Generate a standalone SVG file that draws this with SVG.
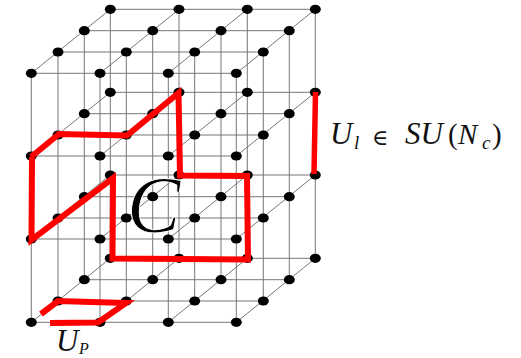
<svg xmlns="http://www.w3.org/2000/svg" width="521" height="358" viewBox="0 0 521 358">
<style>
.g{fill:none;stroke:#777;stroke-width:1}
.r{fill:none;stroke:#f00;stroke-width:6;stroke-linejoin:miter}
.m{font-family:"Liberation Serif",serif;font-style:italic;fill:#111}
.p{font-family:"Liberation Serif",serif;fill:#111}
.u{font-family:"DejaVu Serif",serif;fill:#111}
</style>
<defs><ellipse id="d" rx="5.5" ry="4.6" fill="#000"/></defs>
<g id="connectors">
<path class="g" d="M31.3 73.3H236.3M31.3 156H236.3M31.3 239H236.3M31.3 322.3H236.3M58 52H263.3M58 135H263.3M58 218H263.3M58 301H263.3M84.3 30.7H289.3M84.3 113.7H289.3M84.3 196.7H289.3M84.3 279.7H289.3M110.3 9.3H315.3M110.3 92.3H315.3M110.3 175H315.3M110.3 258.3H315.3"/>
<path class="g" d="M31.3 73.3V322.3M100 73.3V322.3M168.3 73.3V322.3M236.3 73.3V322.3M58 52V301M126.3 52V301M194.7 52V301M263.3 52V301M84.3 30.7V279.7M152.7 30.7V279.7M221 30.7V279.7M289.3 30.7V279.7M110.3 9.3V258.3M179 9.3V258.3M247.3 9.3V258.3M315.3 9.3V258.3"/>
<path class="g" d="M31.3 73.3L110.3 9.3M100 73.3L179 9.3M168.3 73.3L247.3 9.3M236.3 73.3L315.3 9.3M31.3 156L110.3 92.3M100 156L179 92.3M168.3 156L247.3 92.3M236.3 156L315.3 92.3M31.3 239L110.3 175M100 239L179 175M168.3 239L247.3 175M236.3 239L315.3 175M31.3 322.3L110.3 258.3M100 322.3L179 258.3M168.3 322.3L247.3 258.3M236.3 322.3L315.3 258.3"/>
</g>
<g id="nodes">
<g id="n000"><use href="#d" x="31.3" y="73.3"/></g><g id="n100"><use href="#d" x="100" y="73.3"/></g><g id="n200"><use href="#d" x="168.3" y="73.3"/></g><g id="n300"><use href="#d" x="236.3" y="73.3"/></g>
<g id="n010"><use href="#d" x="31.3" y="156"/></g><g id="n110"><use href="#d" x="100" y="156"/></g><g id="n210"><use href="#d" x="168.3" y="156"/></g><g id="n310"><use href="#d" x="236.3" y="156"/></g>
<g id="n020"><use href="#d" x="31.3" y="239"/></g><g id="n120"><use href="#d" x="100" y="239"/></g><g id="n220"><use href="#d" x="168.3" y="239"/></g><g id="n320"><use href="#d" x="236.3" y="239"/></g>
<g id="n030"><use href="#d" x="31.3" y="322.3"/></g><g id="n130"><use href="#d" x="100" y="322.3"/></g><g id="n230"><use href="#d" x="168.3" y="322.3"/></g><g id="n330"><use href="#d" x="236.3" y="322.3"/></g>
<g id="n001"><use href="#d" x="58" y="52"/></g><g id="n101"><use href="#d" x="126.3" y="52"/></g><g id="n201"><use href="#d" x="194.7" y="52"/></g><g id="n301"><use href="#d" x="263.3" y="52"/></g>
<g id="n011"><use href="#d" x="58" y="135"/></g><g id="n111"><use href="#d" x="126.3" y="135"/></g><g id="n211"><use href="#d" x="194.7" y="135"/></g><g id="n311"><use href="#d" x="263.3" y="135"/></g>
<g id="n021"><use href="#d" x="58" y="218"/></g><g id="n121"><use href="#d" x="126.3" y="218"/></g><g id="n221"><use href="#d" x="194.7" y="218"/></g><g id="n321"><use href="#d" x="263.3" y="218"/></g>
<g id="n031"><use href="#d" x="58" y="301"/></g><g id="n131"><use href="#d" x="126.3" y="301"/></g><g id="n231"><use href="#d" x="194.7" y="301"/></g><g id="n331"><use href="#d" x="263.3" y="301"/></g>
<g id="n002"><use href="#d" x="84.3" y="30.7"/></g><g id="n102"><use href="#d" x="152.7" y="30.7"/></g><g id="n202"><use href="#d" x="221" y="30.7"/></g><g id="n302"><use href="#d" x="289.3" y="30.7"/></g>
<g id="n012"><use href="#d" x="84.3" y="113.7"/></g><g id="n112"><use href="#d" x="152.7" y="113.7"/></g><g id="n212"><use href="#d" x="221" y="113.7"/></g><g id="n312"><use href="#d" x="289.3" y="113.7"/></g>
<g id="n022"><use href="#d" x="84.3" y="196.7"/></g><g id="n122"><use href="#d" x="152.7" y="196.7"/></g><g id="n222"><use href="#d" x="221" y="196.7"/></g><g id="n322"><use href="#d" x="289.3" y="196.7"/></g>
<g id="n032"><use href="#d" x="84.3" y="279.7"/></g><g id="n132"><use href="#d" x="152.7" y="279.7"/></g><g id="n232"><use href="#d" x="221" y="279.7"/></g><g id="n332"><use href="#d" x="289.3" y="279.7"/></g>
<g id="n003"><use href="#d" x="110.3" y="9.3"/></g><g id="n103"><use href="#d" x="179" y="9.3"/></g><g id="n203"><use href="#d" x="247.3" y="9.3"/></g><g id="n303"><use href="#d" x="315.3" y="9.3"/></g>
<g id="n013"><use href="#d" x="110.3" y="92.3"/></g><g id="n113"><use href="#d" x="179" y="92.3"/></g><g id="n213"><use href="#d" x="247.3" y="92.3"/></g><g id="n313"><use href="#d" x="315.3" y="92.3"/></g>
<g id="n023"><use href="#d" x="110.3" y="175"/></g><g id="n123"><use href="#d" x="179" y="175"/></g><g id="n223"><use href="#d" x="247.3" y="175"/></g><g id="n323"><use href="#d" x="315.3" y="175"/></g>
<g id="n033"><use href="#d" x="110.3" y="258.3"/></g><g id="n133"><use href="#d" x="179" y="258.3"/></g><g id="n233"><use href="#d" x="247.3" y="258.3"/></g><g id="n333"><use href="#d" x="315.3" y="258.3"/></g>
</g>
<g id="loops">
<path class="r" d="M32 157L31.5 240L113 178L112.5 258.5L248 259.5L247 176L180 175.500L178.500 93L127 135.500L59 134L31 157"/>
<path class="r" d="M41 314L58 301L126 303L98 322.500L50 323"/>
<path class="r" style="stroke-width:5.500" d="M315.500 92L314 174"/>
</g>
<g id="labels">
<text class="m" x="127" y="232" font-size="80" stroke="#fff" stroke-width="0.9" style="fill:#000">C</text>
<text class="m" x="56" y="351" font-size="31">U</text>
<text class="m" x="79" y="354" font-size="16">P</text>
<text class="m" x="330" y="144" font-size="31">U</text>
<text class="m" x="354" y="149" font-size="19">l</text>
<text class="u" x="372" y="145" font-size="22">∈</text>
<text class="m" x="405" y="144" font-size="31">SU</text>
<text class="p" x="448" y="144" font-size="29">(</text>
<text class="m" x="458" y="144" font-size="29">N</text>
<text class="m" x="482" y="149" font-size="19">c</text>
<text class="p" x="492" y="144" font-size="29">)</text>
</g>
</svg>
